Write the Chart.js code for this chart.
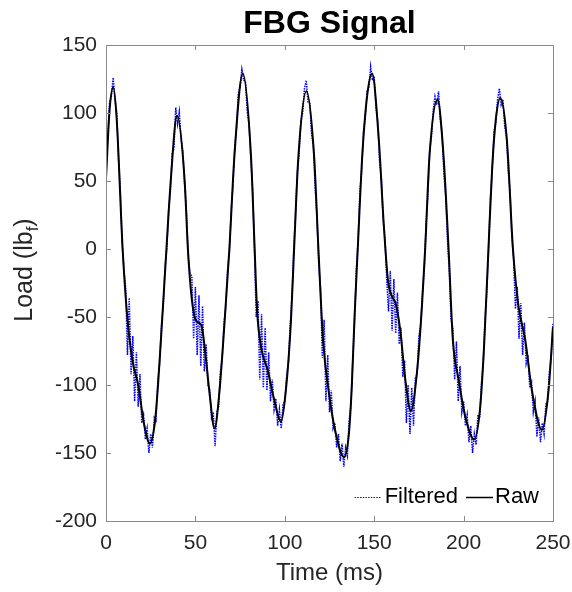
<!DOCTYPE html>
<html><head><meta charset="utf-8">
<script src="https://cdn.jsdelivr.net/npm/chart.js@4.4.0/dist/chart.umd.min.js"></script>
<style>html,body{margin:0;padding:0;background:#fff}#wrap{width:572px;height:592px}</style>
</head><body><div id="wrap"><canvas id="c" width="572" height="592"></canvas></div>
<script>
const chartTitle = 'FBG Signal';
const xTitle = 'Time (ms)';
const yTitleParts = ['Load (lb', 'f', ')'];
const seriesNames = ['Filtered', 'Raw'];
const xTicks = [0, 50, 100, 150, 200, 250];
const yTicks = [-200, -150, -100, -50, 0, 50, 100, 150];

// Raw (black) curve key points
const rawT = [0, 2, 4, 6, 9.3, 11.9, 14.8, 18, 21.2, 24.5, 27.3, 29.1, 31.5, 33.8, 36.2, 39.7, 44, 45.8, 48, 50.5, 53.3, 56, 57.9, 60.7, 63.5, 66.3, 69, 71.8, 76.5, 81.1, 83, 84.5, 86.7, 90.4, 94.1, 97.8, 100.6, 103.4, 105.2, 107.6, 112.1, 116.4, 118.8, 121.4, 124.7, 128.4, 133.1, 135.9, 137.5, 139, 140.8, 143.3, 146, 148.8, 152.6, 155.3, 157.7, 160, 162, 164.6, 167.4, 170.5, 173.9, 176.7, 178.5, 180.9, 185.4, 188.8, 191.6, 194, 197.2, 200.9, 205.9, 209.3, 211.5, 213.9, 216, 218, 220.5, 224.2, 227.6, 230.7, 234.5, 238.2, 243.8, 247.5, 250];
const rawV = [52, 102, 119, 95, 0, -50, -82, -100, -128, -143, -128, -100, -50, 0, 50, 98, 50, 0, -37, -53, -56, -82, -106, -132, -104, -54, 0, 68, 129, 68, 5, -45, -72, -89, -111, -127, -104, -54, 0, 68, 116, 68, 0, -67, -106, -135, -153, -135, -100, -50, 0, 68, 112, 129, 80, 19, -23, -35, -40, -60, -96, -119, -91, -42, 0, 68, 110, 68, 0, -67, -96, -123, -140, -116, -70, 0, 60, 95, 111, 80, 0, -42, -67, -104, -133, -104, -57];

// Filtered (blue) samples, one per ms from t = 0 to 250
const filteredStartT = 0;
const filteredStepT = 1;
const filteredV = [
  55, 84, 108, 112, 126, 110, 100, 66, 44, 5,
  -15, -28, -78, -36, -92, -64, -112, -76, -116, -92,
  -128, -122, -140, -132, -150, -136, -146, -124, -126, -96,
  -84, -56, -42, -14, 0, 28, 42, 70, 74, 104,
  92, 101, 80, 72, 46, 28, -6, -18, -20, -66,
  -28, -78, -34, -86, -42, -90, -70, -100, -103, -124,
  -120, -145, -120, -116, -90, -80, -55, -42, -15, -3,
  28, 46, 75, 89, 114, 119, 132, 124, 123, 101,
  92, 66, 44, 2, -50, -38, -96, -48, -102, -58,
  -104, -76, -112, -96, -118, -110, -130, -118, -132, -114,
  -112, -94, -84, -56, -36, 0, 25, 56, 70, 94,
  100, 118, 124, 108, 107, 84, 76, 44, 24, -12,
  -30, -80, -52, -112, -78, -120, -104, -132, -128, -146,
  -136, -156, -143, -160, -146, -152, -126, -114, -82, -54,
  -15, 6, 42, 58, 86, 96, 116, 118, 134, 124,
  127, 104, 94, 64, 52, 22, 8, -22, -46, -16,
  -60, -22, -62, -32, -70, -58, -94, -82, -128, -100,
  -136, -102, -130, -95, -92, -64, -56, -32, -15, 18,
  38, 72, 82, 102, 112, 106, 116, 95, 84, 55,
  38, 6, -16, -52, -58, -96, -68, -112, -86, -120,
  -112, -130, -122, -142, -130, -150, -136, -144, -122, -124,
  -98, -84, -52, -31, 2, 38, 58, 86, 93, 110,
  118, 106, 110, 90, 83, 57, 42, 9, -8, -44,
  -28, -66, -40, -78, -54, -84, -78, -102, -98, -120,
  -112, -138, -124, -142, -128, -136, -114, -112, -90, -80,
  -55
];

const FONT = '"Liberation Sans", Arial, Helvetica, sans-serif';
const TXT = '#262626';
const FRAME = '#8a8a8a';

const filteredPts = filteredV.map((v, i) => ({x: filteredStartT + i * filteredStepT, y: v}));
const rawPts = rawT.map((t, i) => ({x: t, y: rawV[i]}));

const framePlugin = {
  id: 'frame',
  afterDraw(chart) {
    const {ctx, chartArea: {left, right, top, bottom}, scales: {x, y}} = chart;
    ctx.save();
    ctx.strokeStyle = FRAME;
    ctx.lineWidth = 1;
    ctx.strokeRect(Math.round(left) + 0.5, Math.round(top) + 0.5, Math.round(right - left), Math.round(bottom - top));
    const L = 5;
    ctx.beginPath();
    xTicks.forEach(v => {
      const px = Math.round(x.getPixelForValue(v)) + 0.5;
      ctx.moveTo(px, bottom); ctx.lineTo(px, bottom - L);
      ctx.moveTo(px, top); ctx.lineTo(px, top + L);
    });
    yTicks.forEach(v => {
      const py = Math.round(y.getPixelForValue(v)) + 0.5;
      ctx.moveTo(left, py); ctx.lineTo(left + L, py);
      ctx.moveTo(right, py); ctx.lineTo(right - L, py);
    });
    ctx.stroke();

    // y axis title with subscript
    const cy = 270;
    ctx.translate(25, cy);
    ctx.rotate(-Math.PI / 2);
    ctx.fillStyle = TXT;
    ctx.textBaseline = 'middle';
    ctx.textAlign = 'left';
    const big = '25px ' + FONT, small = '17px ' + FONT;
    ctx.font = big; const w1 = ctx.measureText(yTitleParts[0]).width;
    ctx.font = small; const w2 = ctx.measureText(yTitleParts[1]).width;
    ctx.font = big; const w3 = ctx.measureText(yTitleParts[2]).width;
    let sx = -(w1 + w2 + w3) / 2;
    ctx.font = big; ctx.fillText(yTitleParts[0], sx, 0); sx += w1;
    ctx.font = small; ctx.fillText(yTitleParts[1], sx, 8); sx += w2;
    ctx.font = big; ctx.fillText(yTitleParts[2], sx, 0);
    ctx.restore();

    // legend inside plot, bottom-right
    ctx.save();
    ctx.font = '22px ' + FONT;
    ctx.textBaseline = 'middle';
    ctx.fillStyle = '#000';
    const ly = bottom - 24;
    const lineW = 27;
    const wF = ctx.measureText(seriesNames[0]).width;
    const wR = ctx.measureText(seriesNames[1]).width;
    const total = lineW + 3 + wF + 8 + lineW + 2 + wR;
    let lx = right - 14 - total;
    ctx.strokeStyle = '#0000ff'; ctx.lineWidth = 1.2; ctx.setLineDash([1.5, 1.2]);
    ctx.beginPath(); ctx.moveTo(lx, ly + 0.5); ctx.lineTo(lx + lineW, ly + 0.5); ctx.stroke();
    ctx.setLineDash([]);
    lx += lineW + 3;
    ctx.fillText(seriesNames[0], lx, ly); lx += wF + 8;
    ctx.strokeStyle = '#000'; ctx.lineWidth = 1.5;
    ctx.beginPath(); ctx.moveTo(lx, ly + 0.5); ctx.lineTo(lx + lineW, ly + 0.5); ctx.stroke();
    lx += lineW + 2;
    ctx.fillText(seriesNames[1], lx, ly);
    ctx.restore();
  }
};

new Chart(document.getElementById('c'), {
  type: 'line',
  data: {
    datasets: [
      {label: seriesNames[0], data: filteredPts, borderColor: '#0000ff', borderWidth: 1.5, borderDash: [1.5, 1], pointRadius: 0, tension: 0, order: 1},
      {label: seriesNames[1], data: rawPts, borderColor: '#000000', borderWidth: 2, pointRadius: 0, cubicInterpolationMode: 'monotone', order: 0}
    ]
  },
  options: {
    responsive: false,
    devicePixelRatio: 1,
    animation: false,
    layout: {padding: {left: 0, right: 19, top: 0, bottom: 0}},
    plugins: {
      legend: {display: false},
      tooltip: {enabled: false},
      title: {display: true, text: chartTitle, fullSize: false, color: '#000',
        font: {family: FONT, size: 32, weight: 'bold', lineHeight: 1.2}, padding: {top: 4.8, bottom: 1.8}}
    },
    scales: {
      x: {
        type: 'linear', min: 0, max: 250,
        afterFit(s) { s.height = 71; s.paddingLeft = 0; s.paddingRight = 0; },
        afterBuildTicks(s) { s.ticks = xTicks.map(v => ({value: v})); },
        grid: {display: false, drawTicks: false},
        border: {display: false},
        ticks: {color: TXT, font: {family: FONT, size: 21}, padding: 10, maxRotation: 0, autoSkip: false},
        title: {display: true, text: xTitle, color: TXT, font: {family: FONT, size: 24}, padding: {top: 0, bottom: 4.6}}
      },
      y: {
        type: 'linear', min: -200, max: 150,
        afterFit(s) { s.width = 106; s.paddingTop = 0; s.paddingBottom = 0; },
        afterBuildTicks(s) { s.ticks = yTicks.map(v => ({value: v})); },
        grid: {display: false, drawTicks: false},
        border: {display: false},
        ticks: {color: TXT, font: {family: FONT, size: 21}, padding: 9, autoSkip: false}
      }
    }
  },
  plugins: [framePlugin]
});
</script></body></html>
